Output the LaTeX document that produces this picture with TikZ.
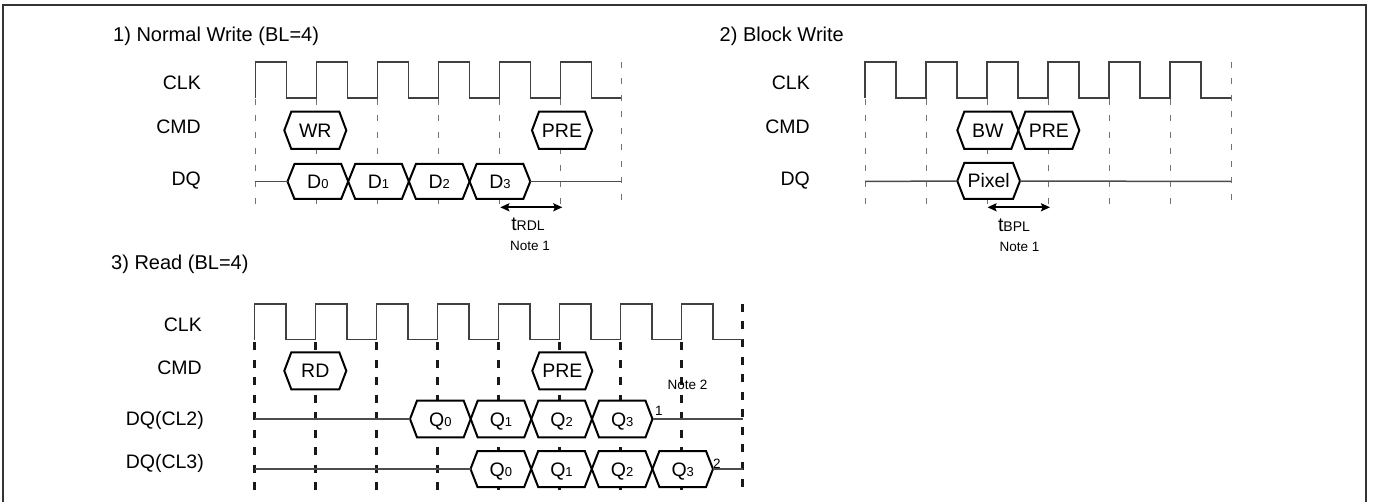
\documentclass[tikz,border=0pt]{standalone}
\usepackage{fontspec}
\setmainfont{Liberation Sans}
\usetikzlibrary{arrows.meta}
\newcommand\smfont{\fontsize{13}{13}\selectfont}
\newcommand\hexcell[6]{%
  \draw[hexline] (#2,{(#4+#5)/2}) -- ({#2+7},#4) -- ({#3-7},#4) -- (#3,{(#4+#5)/2}) -- ({#3-7},#5) -- ({#2+7},#5) -- cycle;
  \coordinate (#1-l) at (#2,{(#4+#5)/2});
  \coordinate (#1-r) at (#3,{(#4+#5)/2});
  \node[hextext] (#1) at ({(#2+#3)/2},{(#4+#5)/2}) {#6};
}
\begin{document}
\begin{tikzpicture}[x=1pt,y=-1pt,
  clk/.style={line width=1.5pt,draw=black!75,line join=miter},
  sig/.style={line width=1.5pt,draw=black!70},
  hexline/.style={line width=2pt,draw=black,fill=white,line join=miter},
  hextext/.style={inner sep=0pt,text height=14pt,text depth=0pt,font=\fontsize{19.5}{20}\selectfont},
  lbl/.style={inner sep=0pt,font=\fontsize{19.5}{20}\selectfont},
  ttl/.style={inner sep=0pt,font=\fontsize{20}{20}\selectfont},
  note/.style={inner sep=0pt,font=\fontsize{13.5}{14}\selectfont},
  grid1/.style={line width=1pt,draw=black!55,dash pattern=on 6pt off 10.5pt},
  grid3/.style={line width=2.2pt,draw=black!90,dash pattern=on 8pt off 9.5pt},
  dim/.style={line width=2pt,{Stealth[length=9pt,width=8pt,inset=1.5pt]}-{Stealth[length=9pt,width=8pt,inset=1.5pt]}}]
\useasboundingbox (0,0) rectangle (1375,502);
% frame
\draw[line width=1.5pt,black!80] (3,503) -- (3,5) -- (1366,5) -- (1366,503);

% ================= Section 1: Normal Write =================
\node[ttl,anchor=base west] (t1) at (113,41.7) {1) Normal Write (BL=4)};
\node[lbl,anchor=base east] (clk1) at (201,89.5) {CLK};
\node[lbl,anchor=base east] (cmd1) at (201,133.5) {CMD};
\node[lbl,anchor=base east] (dq1) at (201,186) {DQ};
\foreach \k in {0,...,5} \draw[grid1] ({255.3+61*\k},99) -- ({255.3+61*\k},204);
\draw[grid1] (621.3,62) -- (621.3,204);
\draw[clk] (255.3,98) \foreach \k in {0,...,5}{ -- ++(0,-36) -- ++(31,0) -- ++(0,36) -- ++(30,0) };
\hexcell{wr}{284.3}{346.3}{111.7}{149}{WR}
\hexcell{pre1}{532}{592}{111.7}{149}{PRE}
\coordinate (dq1s) at (255.3,181.5);
\coordinate (dq1e) at (621.3,181.5);
\hexcell{d0}{287.5}{348.2}{164}{199}{D{\smfont 0}}
\hexcell{d1}{348.2}{408.9}{164}{199}{D{\smfont 1}}
\hexcell{d2}{408.9}{469.6}{164}{199}{D{\smfont 2}}
\hexcell{d3}{469.6}{530.3}{164}{199}{D{\smfont 3}}
\draw[sig] (dq1s) -- (d0-l);
\draw[sig] (d3-r) -- (dq1e);
\coordinate (a1) at (500.3,207.3);
\coordinate (a2) at (562.3,207.3);
\draw[dim] (a1) -- (a2);
\node[lbl,anchor=base] (trdl) at (528,231) {t{\fontsize{14}{14}\selectfont RDL}};
\node[note,anchor=base] (n1a) at (530,250.7) {Note 1};

% ================= Section 2: Block Write =================
\node[ttl,anchor=base west] (t2) at (719.5,41.7) {2) Block Write};
\node[lbl,anchor=base east] (clk2) at (810,89.5) {CLK};
\node[lbl,anchor=base east] (cmd2) at (810,133.5) {CMD};
\node[lbl,anchor=base east] (dq2) at (810,186) {DQ};
\foreach \k in {0,...,5} \draw[grid1] ({865+61*\k},99) -- ({865+61*\k},204);
\draw[grid1] (1231,62) -- (1231,204);
\draw[clk] (865,98) \foreach \k in {0,...,5}{ -- ++(0,-36) -- ++(31,0) -- ++(0,36) -- ++(30,0) };
\hexcell{bw}{957.3}{1018.3}{111.7}{149}{BW}
\hexcell{pre2}{1018.3}{1079.3}{111.7}{149}{PRE}
\hexcell{px}{957.3}{1020}{163}{199}{Pixel}
\coordinate (dq2s) at (865,181.5);
\coordinate (dq2e) at (1231,181.5);
\draw[sig] (dq2s) -- (px-l);
\draw[sig] (px-r) -- (dq2e);
\coordinate (b1) at (987.5,207.3);
\coordinate (b2) at (1050,207.3);
\draw[dim] (b1) -- (b2);
\node[lbl,anchor=base] (tbpl) at (1014,231.7) {t{\fontsize{14}{14}\selectfont BPL}};
\node[note,anchor=base] (n1b) at (1019.5,251.7) {Note 1};

% ================= Section 3: Read =================
\node[ttl,anchor=base west] (t3) at (111,270) {3) Read (BL=4)};
\node[lbl,anchor=base east] (clk3) at (202,331.7) {CLK};
\node[lbl,anchor=base east] (cmd3) at (202,374.3) {CMD};
\node[lbl,anchor=base east] (dqa) at (204,425.5) {DQ(CL2)};
\node[lbl,anchor=base east] (dqb) at (204,468.3) {DQ(CL3)};
\foreach \k in {0,...,7} \draw[grid3] ({254.5+61*\k},342) -- ({254.5+61*\k},492);
\draw[grid3] (742.5,304) -- (742.5,492);
\draw[clk] (254.5,339.5) \foreach \k in {0,...,7}{ -- ++(0,-35.5) -- ++(31.5,0) -- ++(0,35.5) -- ++(29.5,0) };
\hexcell{rd}{284.3}{346.3}{352.3}{389.3}{RD}
\hexcell{pre3}{532.3}{592.3}{352.3}{389.3}{PRE}
\hexcell{qa0}{410}{470.7}{400.7}{437.3}{Q{\smfont 0}}
\hexcell{qa1}{470.7}{531.3}{400.7}{437.3}{Q{\smfont 1}}
\hexcell{qa2}{531.3}{592}{400.7}{437.3}{Q{\smfont 2}}
\hexcell{qa3}{592}{652.5}{400.7}{437.3}{Q{\smfont 3}}
\hexcell{qb0}{470.5}{531.2}{451}{487}{Q{\smfont 0}}
\hexcell{qb1}{531.2}{591.8}{451}{487}{Q{\smfont 1}}
\hexcell{qb2}{591.8}{652.4}{451}{487}{Q{\smfont 2}}
\hexcell{qb3}{652.4}{713}{451}{487}{Q{\smfont 3}}
\coordinate (dqas) at (254.5,419);
\coordinate (dqae) at (742.5,419);
\coordinate (dqbs) at (254.5,469);
\coordinate (dqbe) at (742.5,469);
\draw[sig] (dqas) -- (qa0-l);
\draw[sig] (qa3-r) -- (dqae);
\draw[sig] (dqbs) -- (qb0-l);
\draw[sig] (qb3-r) -- (dqbe);
\node[note,anchor=base west] (sup1) at (655,415) {1};
\node[note,anchor=base west] (sup2) at (713,468) {2};
\node[note,anchor=base] (n2) at (687.5,389.3) {Note 2};
\end{tikzpicture}
\end{document}
